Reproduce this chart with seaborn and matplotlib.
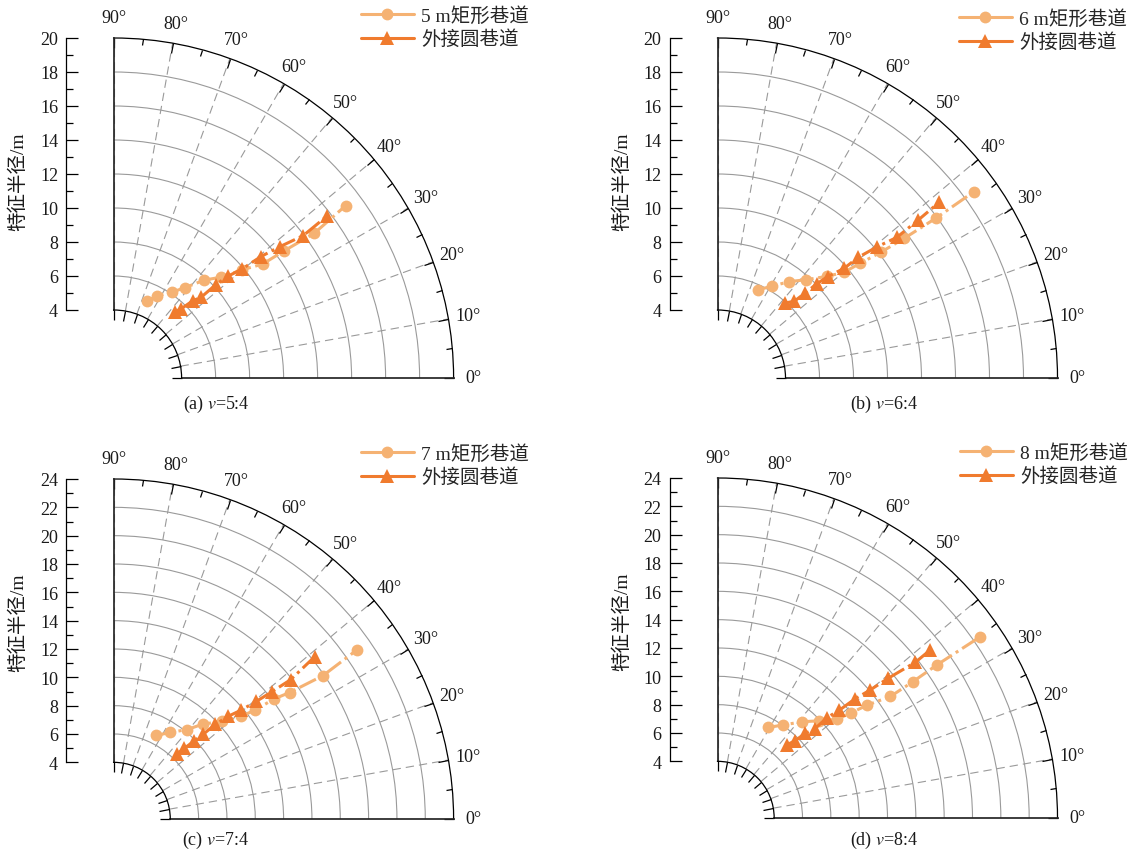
import numpy as np
import pandas as pd
import matplotlib
matplotlib.use("Agg")
import matplotlib.pyplot as plt
import matplotlib.markers as mmarkers
from matplotlib.ticker import FixedLocator
import seaborn as sns

sns.set_theme(style="white")
plt.rcParams['font.family'] = ['Liberation Serif', 'Noto Sans CJK SC']
plt.rcParams['mathtext.fontset'] = 'stix'
plt.rcParams['axes.unicode_minus'] = False

# ---- data (angle in degrees, characteristic radius in m) ----
a_rect_theta = [66.7, 62.0, 55.9, 51.7, 47.2, 43.2, 40.1, 37.4, 36.7, 35.8, 36.6]
a_rect_r = [4.91, 5.48, 6.09, 6.77, 7.85, 8.66, 9.87, 11.04, 12.53, 14.55, 17.0]
a_circ_theta = [47.2, 45.7, 44.3, 42.7, 42.4, 41.7, 40.3, 39.5, 38.3, 36.9, 37.2]
a_circ_r = [5.32, 5.67, 6.51, 7.0, 8.14, 8.99, 9.92, 11.23, 12.47, 13.95, 15.78]

b_rect_theta = [65.2, 59.4, 53.4, 48.0, 42.8, 39.9, 38.8, 37.6, 36.8, 36.2, 36.0]
b_rect_r = [5.72, 6.27, 7.06, 7.78, 8.80, 9.70, 10.76, 12.12, 13.71, 15.9, 18.66]
b_circ_theta = [48.0, 45.0, 44.1, 43.5, 42.6, 40.9, 40.6, 39.4, 38.1, 38.2, 38.4]
b_circ_r = [5.94, 6.38, 7.19, 8.04, 8.81, 9.85, 10.91, 12.17, 13.4, 15.03, 16.63]

c_rect_theta = [63.1, 56.9, 50.6, 46.7, 41.9, 38.8, 37.6, 36.8, 35.7, 34.4, 34.8]
c_rect_r = [6.61, 7.29, 8.17, 9.21, 10.31, 11.58, 12.61, 14.15, 15.3, 17.91, 20.92]
c_circ_theta = [45.7, 45.0, 44.1, 43.4, 42.9, 41.9, 40.5, 39.5, 38.8, 38.2, 38.9]
c_circ_r = [6.41, 7.04, 7.90, 8.73, 9.80, 10.84, 11.83, 13.04, 14.32, 15.89, 18.23]

d_rect_theta = [60.8, 54.9, 48.6, 43.7, 39.6, 38.2, 37.0, 35.1, 34.9, 34.9, 34.6]
d_rect_r = [7.32, 8.02, 9.06, 9.93, 10.92, 12.01, 13.24, 14.92, 16.79, 18.91, 22.51]
d_circ_theta = [46.6, 44.9, 44.0, 42.5, 42.5, 41.5, 40.9, 40.0, 39.3, 38.2, 38.3]
d_circ_r = [7.09, 7.73, 8.59, 9.33, 10.49, 11.48, 12.84, 14.03, 15.58, 17.78, 19.11]

rect_labels = ['5 m矩形巷道', '6 m矩形巷道', '7 m矩形巷道', '8 m矩形巷道']
circ_label = '外接圆巷道'
captions = ['(a) $v$=5:4', '(b) $v$=6:4', '(c) $v$=7:4', '(d) $v$=8:4']
r_max = [20, 20, 24, 24]

col_rect = '#F5B273'
col_circ = '#F07B2E'
grid_col = '#9a9a9a'
txt_col = '#1a1a1a'

W, H = 1137, 854
R = 340  # outer radius of the quarter, px

fig = plt.figure(figsize=(W / 100, H / 100), dpi=100)


def polar_panel(cx, cy, spine_x, rmax, rect, circ, rect_label, caption,
                cap_x, cap_y, leg_x, leg_y):
    ax = fig.add_axes([cx / W, 1 - cy / H, R / W, R / H], projection='polar')

    df_rect = pd.DataFrame({'theta': np.deg2rad(rect[0]), 'r': rect[1]})
    df_circ = pd.DataFrame({'theta': np.deg2rad(circ[0]), 'r': circ[1]})
    sns.lineplot(data=df_rect, x='theta', y='r', ax=ax, sort=False, estimator=None,
                 color=col_rect, marker='o', markersize=8.5, markeredgewidth=0,
                 linewidth=2.2, linestyle=(0, (6, 1.5, 1, 1.5)), label=rect_label)
    sns.lineplot(data=df_circ, x='theta', y='r', ax=ax, sort=False, estimator=None,
                 color=col_circ, marker='^', markersize=9.5, markeredgewidth=0,
                 linewidth=2.2, linestyle=(0, (6, 1.5, 1, 1.5)), label=circ_label)
    ax.set_xlabel('')
    ax.set_ylabel('')

    ax.set_thetamin(0)
    ax.set_thetamax(90)
    ax.set_ylim(4, rmax)
    ax.set_rorigin(0)

    ax.set_xticks(np.deg2rad(np.arange(0, 91, 10)))
    ax.xaxis.set_minor_locator(FixedLocator(np.deg2rad(np.arange(5, 90, 10))))
    ax.set_yticks(np.arange(6, rmax, 2))
    ax.set_yticklabels([])
    ax.xaxis.grid(True, color=grid_col, linestyle=(0, (7.5, 4.5)), linewidth=0.8)
    ax.yaxis.grid(True, color=grid_col, linestyle='-', linewidth=0.8)
    ax.spines['start'].set_visible(False)
    ax.spines['end'].set_visible(False)
    ax.spines['polar'].set(color='black', linewidth=0.9)
    ax.spines['inner'].set(color='black', linewidth=0.9)
    ax.tick_params(axis='x', which='both', direction='in', bottom=True, top=True,
                   color='black', width=0.9, labelsize=13, pad=7.4, labelcolor=txt_col)
    ax.tick_params(axis='x', which='major', length=7)
    # minor ticks only on the outer arc
    ax.tick_params(axis='x', which='minor', length=4.5, bottom=False)
    ax.tick_params(axis='y', which='both', length=0)
    # ticks on the inner arc should point away from the centre
    for t in ax.xaxis.get_major_ticks():
        t.tick1line.set_marker(mmarkers.TICKDOWN)

    handles, labels = ax.get_legend_handles_labels()
    leg = ax.legend(handles, labels, loc='upper left',
                    bbox_to_anchor=(leg_x / W, 1 - leg_y / H),
                    bbox_transform=fig.transFigure, frameon=False, fontsize=14,
                    handlelength=2.7, handletextpad=0.4, borderpad=0,
                    borderaxespad=0, labelspacing=0.25)
    for line in leg.get_lines():
        line.set_linestyle('-')

    # radial scale drawn as a separate axis on the left
    lax = fig.add_axes([spine_x / W, 1 - cy / H, 0.02, R / H])
    lax.set_ylim(0, rmax)
    lax.patch.set_visible(False)
    for s in ['top', 'right', 'bottom']:
        lax.spines[s].set_visible(False)
    lax.spines['left'].set_bounds(4, rmax)
    lax.spines['left'].set(color='black', linewidth=0.9)
    lax.set_xticks([])
    lax.set_yticks(np.arange(4, rmax + 1, 2))
    lax.yaxis.set_minor_locator(FixedLocator(np.arange(5, rmax, 2)))
    lax.tick_params(axis='y', which='both', direction='in', left=True, color='black',
                    width=0.9, labelsize=13, pad=6, labelcolor=txt_col)
    lax.tick_params(axis='y', which='major', length=8.5)
    lax.tick_params(axis='y', which='minor', length=5)
    lax.set_ylabel('特征半径/m', fontsize=14, color=txt_col)
    lax.yaxis.set_label_coords((spine_x - 39) / W, 1 - (cy - 197) / H,
                               transform=fig.transFigure)

    fig.text(cap_x / W, 1 - cap_y / H, caption, ha='center', va='center',
             fontsize=13, color=txt_col)


polar_panel(113.6, 379, 66.4, r_max[0], (a_rect_theta, a_rect_r),
            (a_circ_theta, a_circ_r), rect_labels[0], captions[0], 216, 404, 361, 7)
polar_panel(717.5, 379, 669.8, r_max[1], (b_rect_theta, b_rect_r),
            (b_circ_theta, b_circ_r), rect_labels[1], captions[1], 884.6, 404, 959, 10)
polar_panel(113.6, 820, 66.4, r_max[2], (c_rect_theta, c_rect_r),
            (c_circ_theta, c_circ_r), rect_labels[2], captions[2], 216, 840, 361, 445)
polar_panel(717.5, 819, 669.8, r_max[3], (d_rect_theta, d_rect_r),
            (d_circ_theta, d_circ_r), rect_labels[3], captions[3], 884.6, 840, 960, 444)

fig.savefig('out.png', dpi=100)
